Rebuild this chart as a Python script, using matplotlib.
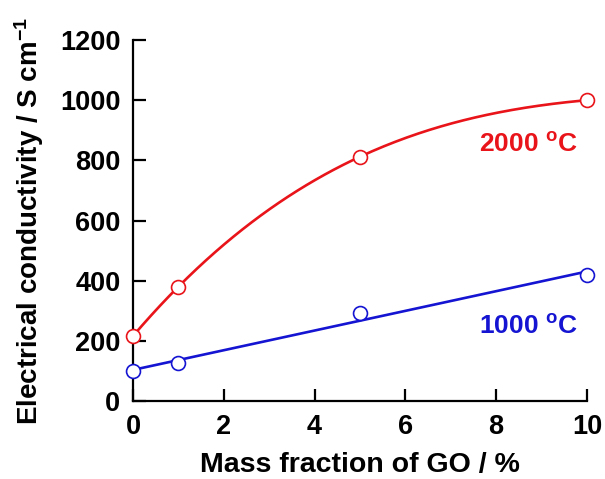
import numpy as np
import matplotlib.pyplot as plt

# === dados ===
go_frac = [0, 1, 5, 10]
cond_2000 = [216, 380, 812, 1000]
cond_1000 = [100, 126, 292, 419]

plt.rcParams['font.family'] = ['Liberation Sans', 'DejaVu Sans']
plt.rcParams['font.weight'] = 'bold'
plt.rcParams['mathtext.fontset'] = 'custom'
plt.rcParams['mathtext.rm'] = 'Liberation Sans:bold'
plt.rcParams['mathtext.bf'] = 'Liberation Sans:bold'
plt.rcParams['mathtext.it'] = 'Liberation Sans:bold'

vermelho = '#e8141a'
azul = '#1414d2'

fig = plt.figure(figsize=(6.05, 4.79), dpi=100)
ax = fig.add_axes([0.2198, 0.1628, 0.7504, 0.7537])

# curvas ajustadas
xs = np.linspace(0, 10, 200)
c_red = np.polyfit(go_frac, cond_2000, 3)
c_blue = np.polyfit(go_frac, cond_1000, 1)
ax.plot(xs, np.polyval(c_red, xs), color=vermelho, lw=1.9, clip_on=False)
ax.plot(xs, np.polyval(c_blue, xs), color=azul, lw=1.9, clip_on=False)

ax.plot(go_frac, cond_2000, 'o', ms=10, mfc='white', mec=vermelho, mew=1.2, clip_on=False, zorder=5)
ax.plot(go_frac, cond_1000, 'o', ms=10, mfc='white', mec=azul, mew=1.2, clip_on=False, zorder=5)

ax.text(9.8, 850, r'2000 $^{\mathbf{o}}$C', color=vermelho, fontsize=19, fontweight='bold',
        ha='right', va='center')
ax.text(9.8, 246, r'1000 $^{\mathbf{o}}$C', color=azul, fontsize=19, fontweight='bold',
        ha='right', va='center')

ax.set_xlim(0, 10)
ax.set_ylim(0, 1200)
ax.set_xticks([0, 2, 4, 6, 8, 10])
ax.set_yticks(range(0, 1201, 200))
for s in ['top', 'right']:
    ax.spines[s].set_visible(False)
for s in ['left', 'bottom']:
    ax.spines[s].set_linewidth(1.6)
ax.tick_params(direction='in', length=9, width=1.6, labelsize=19.5)
ax.tick_params(axis='x', pad=9)
ax.tick_params(axis='y', pad=9)

ax.set_xlabel('Mass fraction of GO / %', fontsize=20.5, fontweight='bold', labelpad=9)
ax.set_ylabel(r'Electrical conductivity / S cm$^{\mathbf{-1}}$', fontsize=20,
              fontweight='bold', labelpad=10)

fig.savefig('out.png', dpi=100)
